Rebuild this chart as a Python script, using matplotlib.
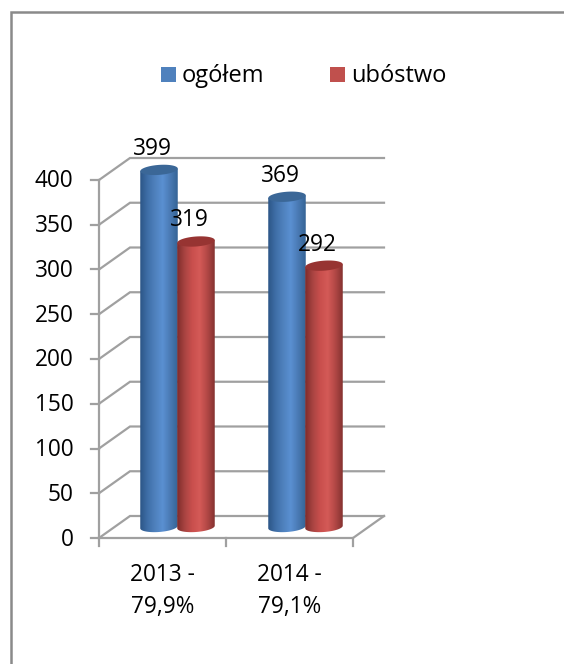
import numpy as np
from matplotlib import pyplot as plt
from matplotlib.colors import LinearSegmentedColormap
from matplotlib.lines import Line2D
from matplotlib.patches import Polygon, Rectangle

plt.rcParams['font.family'] = ['Open Sans', 'DejaVu Sans']

categories = ['2013 -\n79,9%', '2014 -\n79,1%']
series_names = ['ogółem', 'ubóstwo']
ogolem = [399, 369]
ubostwo = [319, 292]
y_ticks = [0, 50, 100, 150, 200, 250, 300, 350, 400]

W, H = 564, 664
fig = plt.figure(figsize=(W / 100, H / 100), dpi=100)

# plot area, the front edges of the 3d floor/wall
left, right, bottom, top = 99, 353, 538, 180
ax = fig.add_axes([left / W, 1 - bottom / H, (right - left) / W, (bottom - top) / H])
ax.set_xlim(0, 2)
ax.set_ylim(0, 400)
ax.patch.set_visible(False)
for s in ax.spines.values():
    s.set_visible(False)
ax.set_xticks([])
ax.set_yticks([])

px = 2 / (right - left)
py = 400 / (bottom - top)
dx = 31 * px
dy = 22 * py
grid = '#a0a0a0'
lw = 1.6

for v in y_ticks:
    ax.plot([0, dx, 2 + dx], [v, v + dy, v + dy], color=grid, lw=lw, clip_on=False, zorder=1,
            solid_joinstyle='miter')
    ax.plot([-8 * px, 0], [v, v], color=grid, lw=lw, clip_on=False, zorder=1)

ax.plot([0, 0], [0, 400], color=grid, lw=lw, clip_on=False, zorder=1)
ax.plot([0, 2, 2 + dx], [0, 0, dy], color=grid, lw=lw, clip_on=False, zorder=1)
for t in [0, 1, 2]:
    ax.plot([t, t], [0, -8 * py], color=grid, lw=lw, clip_on=False, zorder=1)

cmap_blue = LinearSegmentedColormap.from_list('b', ['#2c5687', '#3f6fa8', '#4f81bd', '#5a90d2', '#4a7ab4', '#356496'])
cmap_red = LinearSegmentedColormap.from_list('r', ['#7f2c2b', '#a94442', '#c94f4d', '#d45a57', '#b34846', '#853230'])
top_blue = '#3b6797'
top_red = '#973432'
bar_w = 37.5 * px
half_h = 5 * py
tilt = 0.07


def cylinder(cx, value, cmap, top_color):
    # cx is the bar centre, depth shift moves it half way to the back wall
    y0 = dy / 2
    y1 = value + dy / 2
    t = np.linspace(0, np.pi, 40)
    lower_x = cx - bar_w / 2 * np.cos(t)
    lower_y = y0 - half_h * np.sin(t) + tilt * (lower_x - cx) * py / px
    t2 = np.linspace(0, 2 * np.pi, 80)
    top_x = cx + bar_w / 2 * np.cos(t2)
    top_y = y1 + half_h * np.sin(t2) + tilt * (top_x - cx) * py / px
    outline = np.vstack([
        np.column_stack([lower_x, lower_y]),
        [[cx + bar_w / 2, y1 + tilt * bar_w / 2 * py / px]],
        [[cx - bar_w / 2, y1 - tilt * bar_w / 2 * py / px]],
    ])
    body = Polygon(outline, closed=True, fc='none', ec='none', clip_on=False)
    ax.add_patch(body)
    img = ax.imshow(np.linspace(0, 1, 64).reshape(1, -1), cmap=cmap, aspect='auto',
                    extent=[cx - bar_w / 2, cx + bar_w / 2, y0 - half_h * 1.3, y1 + half_h * 1.3],
                    zorder=2)
    img.set_clip_box(fig.bbox)  # the tops stick out of the axes box
    img.set_clip_path(body)
    ax.add_patch(Polygon(np.column_stack([top_x, top_y]), closed=True, fc=top_color, ec='none',
                         zorder=2.1, clip_on=False))


blue_pos = [(159 - left) * px, (287 - left) * px]
red_pos = [(196 - left) * px, (324 - left) * px]
for cx, v in zip(blue_pos, ogolem):
    cylinder(cx, v, cmap_blue, top_blue)
for cx, v in zip(red_pos, ubostwo):
    cylinder(cx, v, cmap_red, top_red)
ax.set_xlim(0, 2)
ax.set_ylim(0, 400)

fs = 16.3
for cx, v in zip(blue_pos + red_pos, ogolem + ubostwo):
    ax.text(cx - 7 * px, v + 32 * py, str(v), ha='center', va='center', fontsize=fs, color='black', zorder=5)

for v in y_ticks:
    ax.text(-25.5 * px, v - 1.5 * py, str(v), ha='right', va='center', fontsize=fs, color='black')
for i, c in enumerate(categories):
    line1, line2 = c.split('\n')
    ax.text(i + 0.5, -37 * py, line1, ha='center', va='center', fontsize=fs, color='black')
    ax.text(i + 0.5, -68.5 * py, line2, ha='center', va='center', fontsize=fs, color='black')

# only the top and left edges of the chart border are inside the picture
border = '#8a8a8a'
fig.add_artist(Line2D([10.5 / W, 10.5 / W, 1], [0, 1 - 11.5 / H, 1 - 11.5 / H], color=border, lw=1.8,
                      solid_joinstyle='miter'))
for x0, name, col in [(161, series_names[0], '#4f81bd'), (330, series_names[1], '#c0504d')]:
    fig.add_artist(Rectangle((x0 / W, 1 - 82 / H), 15 / W, 15 / H, transform=fig.transFigure,
                             fc=col, ec='none'))
    fig.text((x0 + 21) / W, 1 - 76 / H, name, ha='left', va='center', fontsize=17, color='black')

fig.savefig('out.png', dpi=100)
